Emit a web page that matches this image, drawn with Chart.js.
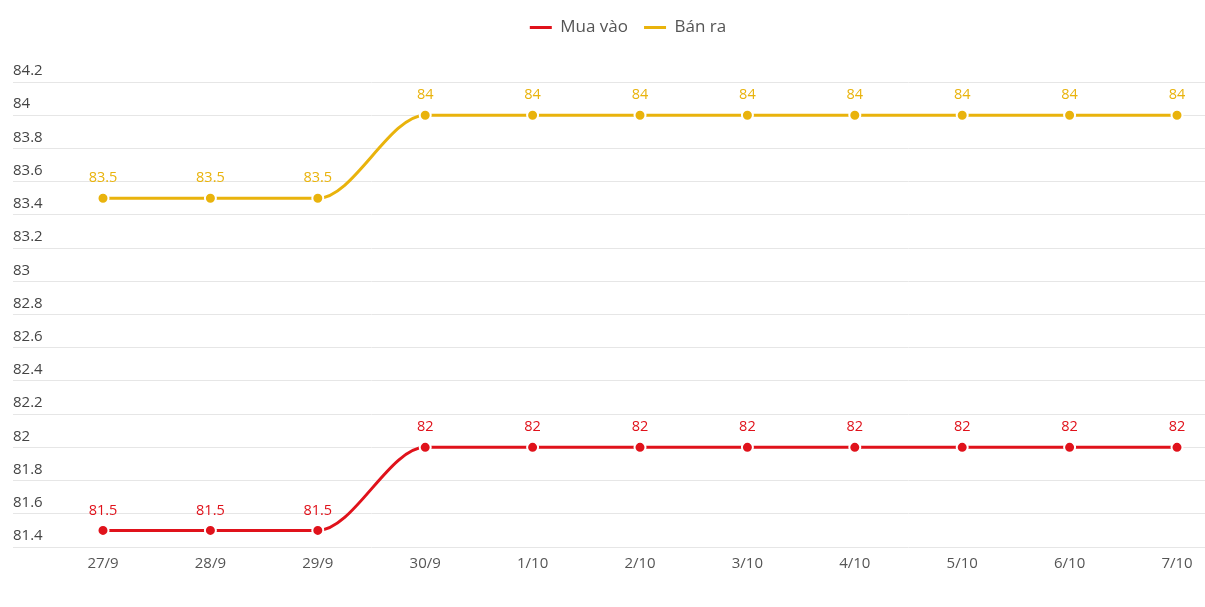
<!DOCTYPE html>
<html>
<head>
<meta charset="utf-8">
<script src="https://cdn.jsdelivr.net/npm/chart.js@4"></script>
<style>
html,body{margin:0;padding:0;background:#fff;}
#wrap{width:1205px;height:607px;}
</style>
</head>
<body>
<div id="wrap"><canvas id="c"></canvas></div>
<script>
const categories = ['27/9','28/9','29/9','30/9','1/10','2/10','3/10','4/10','5/10','6/10','7/10'];
const muaVao = [81.5,81.5,81.5,82,82,82,82,82,82,82,82];
const banRa = [83.5,83.5,83.5,84,84,84,84,84,84,84,84];
const yMin = 81.4, yMax = 84.2, yStep = 0.2;

const RED = '#e0121b';
const YELLOW = '#e9b30c';
const FONT = "'Open Sans', 'Noto Sans', sans-serif";

const valueLabels = {
  id: 'valueLabels',
  afterDatasetsDraw(chart) {
    const ctx = chart.ctx;
    ctx.save();
    ctx.font = "14.5px " + FONT;
    ctx.textAlign = 'center';
    ctx.textBaseline = 'middle';
    chart.data.datasets.forEach((ds, i) => {
      const meta = chart.getDatasetMeta(i);
      ctx.fillStyle = ds.borderColor;
      meta.data.forEach((el, j) => {
        ctx.fillText(String(ds.data[j]), el.x, el.y - 20);
      });
    });
    ctx.restore();
  }
};

const legendSpace = {
  id: 'legendSpace',
  beforeInit(chart) {
    const orig = chart.legend.fit;
    chart.legend.fit = function() {
      orig.bind(chart.legend)();
      this.height += 36;
    };
  },
  afterLayout(chart) {
    chart.legend.left += 19;
    chart.legend.right += 19;
  }
};

new Chart(document.getElementById('c'), {
  type: 'line',
  data: {
    labels: categories,
    datasets: [
      { label: 'Mua vào', data: muaVao, borderColor: RED, backgroundColor: RED,
        borderWidth: 3, pointRadius: 5.5, pointHoverRadius: 5.5, pointBorderColor: '#fff',
        pointBorderWidth: 2, pointBackgroundColor: RED, cubicInterpolationMode: 'monotone' },
      { label: 'Bán ra', data: banRa, borderColor: YELLOW, backgroundColor: YELLOW,
        borderWidth: 3, pointRadius: 5.5, pointHoverRadius: 5.5, pointBorderColor: '#fff',
        pointBorderWidth: 2, pointBackgroundColor: YELLOW, cubicInterpolationMode: 'monotone' }
    ]
  },
  options: {
    responsive: true,
    maintainAspectRatio: false,
    animation: false,
    layout: { padding: { top: 3, left: 13, right: 0, bottom: 26 } },
    plugins: {
      tooltip: { enabled: false },
      legend: {
        position: 'top',
        labels: {
          font: { family: FONT, size: 17 },
          color: '#555',
          padding: 16,
          boxWidth: 22,
          boxHeight: 3,
          generateLabels(chart) {
            return chart.data.datasets.map((ds, i) => ({
              text: ds.label, fillStyle: ds.borderColor, strokeStyle: ds.borderColor,
              lineWidth: 0, hidden: false, datasetIndex: i, fontColor: '#555'
            }));
          }
        }
      }
    },
    scales: {
      x: {
        offset: false,
        grid: { display: false, drawTicks: false },
        border: { display: false },
        ticks: { font: { family: FONT, size: 15 }, color: '#555', padding: 8, autoSkip: false, maxRotation: 0 }
      },
      y: {
        position: 'left',
        min: yMin, max: yMax,
        afterFit(scale) { scale.width = 90; },
        grid: { color: '#e6e6e6', lineWidth: 1, drawTicks: true, tickLength: 90, tickColor: '#e6e6e6' },
        border: { display: false },
        ticks: {
          stepSize: yStep, crossAlign: 'far', labelOffset: -11, padding: 0,
          font: { family: FONT, size: 15 }, color: '#444',
          callback: v => String(Number(v.toFixed(1)))
        }
      },
      y2: {
        position: 'right',
        min: yMin, max: yMax,
        afterFit(scale) { scale.width = 28; },
        grid: { drawOnChartArea: false, color: '#e6e6e6', drawTicks: true, tickLength: 28, tickColor: '#e6e6e6' },
        border: { display: false },
        ticks: { stepSize: yStep, display: false }
      }
    }
  },
  plugins: [valueLabels, legendSpace]
});
</script>
</body>
</html>
